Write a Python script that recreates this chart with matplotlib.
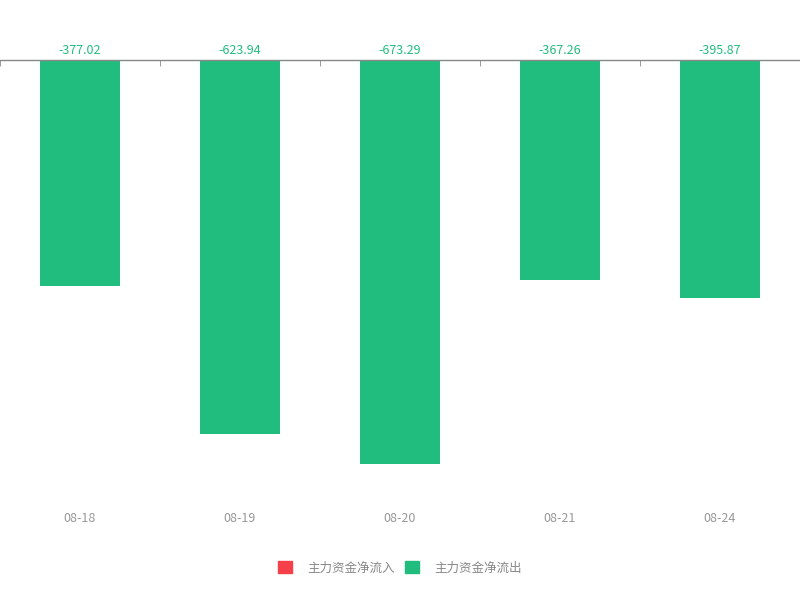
import matplotlib
matplotlib.use('Agg')
import matplotlib.pyplot as plt
from matplotlib.patches import Patch

plt.rcParams['font.family'] = ['Noto Sans CJK SC', 'DejaVu Sans']

# data
dates = ['08-18', '08-19', '08-20', '08-21', '08-24']
values = [-377.02, -623.94, -673.29, -367.26, -395.87]
legend_names = ['主力资金净流入', '主力资金净流出']

red = '#f5404b'
green = '#21bd7e'

fig = plt.figure(figsize=(8, 6), dpi=100)
# axes: top at y=60px, bottom at 505px
ax = fig.add_axes([0, 95/600, 1, 445/600])

x = list(range(len(dates)))
colors = [red if v > 0 else green for v in values]
ax.bar(x, values, width=0.5, color=colors, zorder=2)

ax.set_xlim(-0.5, len(dates) - 0.5)
ax.set_ylim(-445/0.6, 0)

for i, v in enumerate(values):
    ax.annotate('%.2f' % v, (i, 0), xytext=(0, 2), textcoords='offset points',
                ha='center', va='bottom', fontsize=9, color=green)

for s in ['left', 'right', 'bottom']:
    ax.spines[s].set_visible(False)
ax.spines['top'].set_color('#888888')
ax.spines['top'].set_linewidth(1)
ax.set_yticks([])

ax.set_xticks(x)
ax.set_xticklabels(dates)
ax.tick_params(axis='x', which='major', length=0, pad=5, labelsize=9, labelcolor='#999999')
ax.set_xticks([i - 0.5 for i in range(len(dates) + 1)], minor=True)
ax.tick_params(axis='x', which='minor', top=True, bottom=False, direction='in',
               length=4, color='#888888')

handles = [Patch(color=red), Patch(color=green)]
fig.legend(handles, legend_names, loc='center', bbox_to_anchor=(0.5, 1 - 568/600),
           ncol=2, frameon=False, fontsize=9, labelcolor='#888888',
           handlelength=1.1, handleheight=1.1, handletextpad=1.25, columnspacing=0.8)

fig.savefig('out.png', dpi=100)
